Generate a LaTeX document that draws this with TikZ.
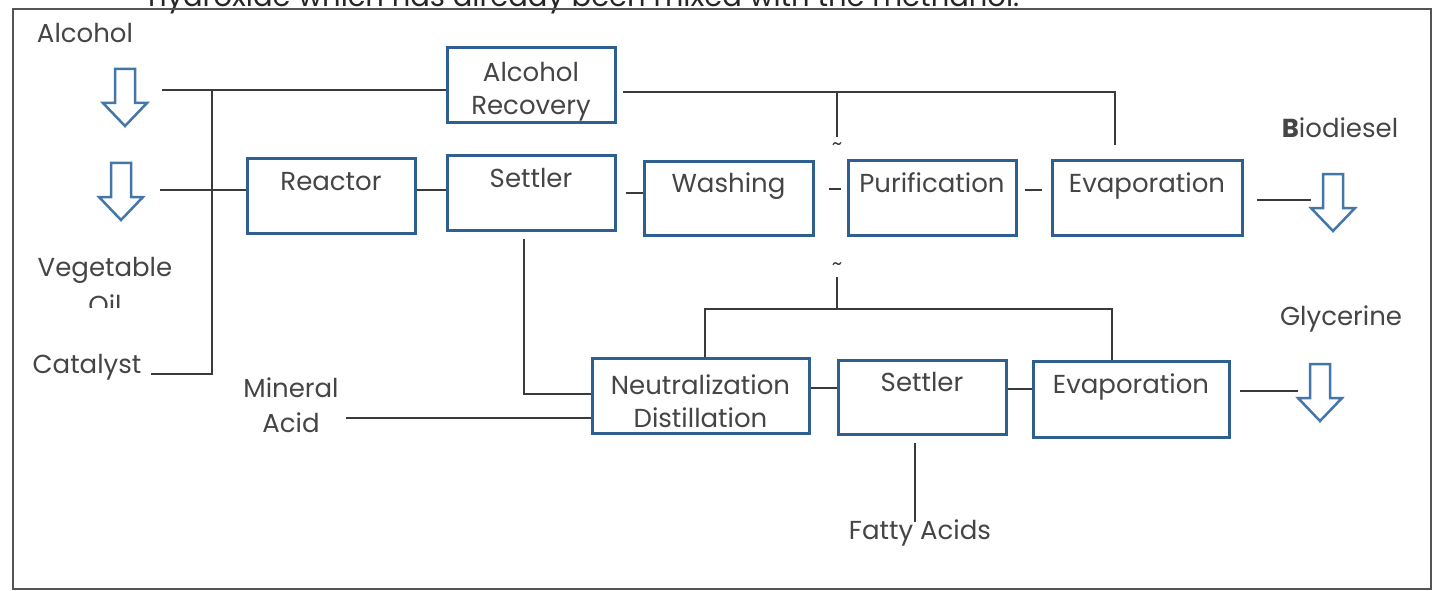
\documentclass[tikz,border=0pt]{standalone}
\usepackage{fontspec}
\setmainfont{Poppins}
\definecolor{boxblue}{HTML}{2F5F8F}
\definecolor{linegray}{HTML}{3A3A3A}
\definecolor{txtgray}{HTML}{454545}
\definecolor{arrowblue}{HTML}{4477A8}
\definecolor{framegray}{HTML}{555555}
\newcommand\tpad{\rule{0pt}{31pt}}
\tikzset{
  proc/.style={draw=boxblue, line width=3pt, fill=white, text=txtgray, align=center,
    inner sep=0pt, font=\fontsize{26}{33}\selectfont},
  conn/.style={draw=linegray, line width=2pt},
  lbl/.style={text=txtgray, align=center, inner sep=0pt, font=\fontsize{26}{35}\selectfont},
  openarrow/.pic={\draw[draw=arrowblue, line width=2.5pt, fill=white, line join=miter]
    (-10,0) -- (10,0) -- (10,34) -- (22,34) -- (0,57) -- (-22,34) -- (-10,34) -- cycle;}
}
\begin{document}
\begin{tikzpicture}[x=1pt,y=-1pt]
\useasboundingbox (0,0) rectangle (1435,591);
\fill[white] (0,0) rectangle (1435,591);
% heading line, cut by the page edge
\node[lbl, text=black!85, anchor=base west, font=\fontsize{29}{35}\selectfont] (title) at (148,7) {hydroxide which has already been mixed with the methanol.};
\draw[framegray, line width=2pt] (13,9) rectangle (1431,589);

% process boxes
\node[proc, minimum width=168pt, minimum height=75pt] (arec) at (531,85.5) {\tpad Alcohol\\Recovery};
\node[proc, minimum width=168pt, minimum height=74pt] (reactor) at (331,196) {\tpad Reactor\\\strut};
\node[proc, minimum width=168pt, minimum height=74pt] (settlerA) at (531,193) {\tpad Settler\\\strut};
\node[proc, minimum width=169pt, minimum height=73pt] (washing) at (728.5,198.5) {\tpad Washing\\\strut};
\node[proc, minimum width=168pt, minimum height=74pt] (purif) at (932,198) {\tpad Purification\\\strut};
\node[proc, minimum width=190pt, minimum height=74pt] (evapA) at (1147,198) {\tpad Evaporation\\\strut};
\node[proc, minimum width=217pt, minimum height=75pt] (neutral) at (700.5,395.5) {\tpad Neutralization\\Distillation};
\node[proc, minimum width=168pt, minimum height=73pt] (settlerB) at (922,397.5) {\tpad Settler\\\strut};
\node[proc, minimum width=196pt, minimum height=76pt] (evapB) at (1131,399) {\tpad Evaporation\\\strut};

% open arrows
\pic at (125,69) {openarrow};
\pic at (121,163) {openarrow};
\pic at (1333,174) {openarrow};
\pic at (1320,364) {openarrow};

% labels
\node[lbl] (alcohol) at (85,33) {Alcohol};
\node[lbl] (veg) at (105,270) {Vegetable};
\begin{scope}
\clip (40,285) rectangle (180,307);
\node[lbl, anchor=base] (oil) at (105,314) {Oil};
\end{scope}
\node[lbl] (catalyst) at (87,367) {Catalyst};
\node[lbl] (mineral) at (291,405) {Mineral\\Acid};
\node[lbl] (biodiesel) at (1340,128) {\textbf{B}iodiesel};
\node[lbl] (glycerine) at (1341,319) {Glycerine};
\node[lbl] (fatty) at (920,533) {Fatty Acids};

% coordinates for free ends
\coordinate (alcEnd) at (162,90);
\coordinate (vegEnd) at (160,190);
\coordinate (jTop) at (212,90);
\coordinate (jBot) at (212,374);
\coordinate (catEnd) at (151,374);
\coordinate (recR) at (623,92);
\coordinate (recC) at (837,92);
\coordinate (recCd) at (837,137);
\coordinate (recE) at (1115,92);
\coordinate (recEd) at (1115,145);
\coordinate (glyTop) at (837,277);
\coordinate (glyJ) at (837,309);
\coordinate (glyL) at (705,309);
\coordinate (glyR) at (1112,309);
\coordinate (setDown) at (524,394);
\coordinate (acidEnd) at (346,418);
\coordinate (bioA) at (1257,200);
\coordinate (bioB) at (1311,200);
\coordinate (glyA) at (1240,391);
\coordinate (glyB) at (1298,391);
\coordinate (fatA) at (915,443);
\coordinate (fatB) at (915,522);

% connectors
\draw[conn] (alcEnd) -- (arec.west |- alcEnd);
\draw[conn] (vegEnd) -- (reactor.west |- vegEnd);
\draw[conn] (catEnd) -- (jBot) -- (jTop);
\draw[conn] (reactor.east |- 0,190) -- (settlerA.west |- 0,190);
\draw[conn] ([xshift=9pt]settlerA.east |- 0,193) -- (washing.west |- 0,193);
\draw[conn] ([xshift=14pt]washing.east |- 0,189) -- ([xshift=-6pt]purif.west |- 0,189);
\draw[conn] ([xshift=7pt]purif.east |- 0,190) -- ([xshift=-9pt]evapA.west |- 0,190);
\draw[conn] (recR) -- (recE) -- (recEd);
\draw[conn, line width=1.6pt] (recC) -- (recCd);
\draw[conn] (glyTop) -- (glyJ);
\draw[conn] (neutral.north -| glyL) -- (glyL) -- (glyR) -- (evapB.north -| glyR);
\draw[conn, line width=1.6pt] (settlerA.south -| setDown) ++(0,7) -- (setDown) -- (neutral.west |- setDown);
\draw[conn] (acidEnd) -- (neutral.west |- acidEnd);
\draw[conn] (neutral.east |- 0,388) -- (settlerB.west |- 0,388);
\draw[conn] (settlerB.east |- 0,389) -- (evapB.west |- 0,389);
\draw[conn] (bioA) -- (bioB);
\draw[conn] (glyA) -- (glyB);
\draw[conn, line width=1.6pt] (fatA) -- (fatB);
% small tilde marks
\node[text=linegray, inner sep=0pt, font=\fontsize{20}{20}\selectfont] (tildeA) at (837,147) {\textasciitilde};
\node[text=linegray, inner sep=0pt, font=\fontsize{20}{20}\selectfont] (tildeB) at (837,267) {\textasciitilde};
\end{tikzpicture}
\end{document}
